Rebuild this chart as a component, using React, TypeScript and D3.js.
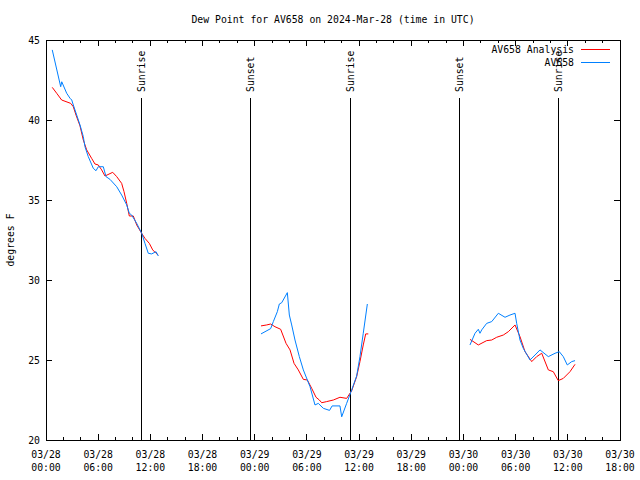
import React from "react";
import * as d3 from "d3";

const titleText = "Dew Point for AV658 on 2024-Mar-28 (time in UTC)";
const yLabel = "degrees F";
const seriesNames = ["AV658 Analysis", "AV658"];
const seriesColors = ["#ff0000", "#0080ff"];

const xTickHours = [0, 6, 12, 18, 24, 30, 36, 42, 48, 54, 60, 66];
const xTickDates = ["03/28", "03/28", "03/28", "03/28", "03/29", "03/29", "03/29", "03/29", "03/30", "03/30", "03/30", "03/30"];
const xTickTimes = ["00:00", "06:00", "12:00", "18:00", "00:00", "06:00", "12:00", "18:00", "00:00", "06:00", "12:00", "18:00"];
const yTicks = [20, 25, 30, 35, 40, 45];

const eventHours = [10.97, 23.5, 35.0, 47.53, 58.92];
const eventLabels = ["Sunrise", "Sunset", "Sunrise", "Sunset", "Sunrise"];

// AV658 Analysis (red); null marks a gap
const analysisHours = [
  0.72, 1.23, 1.8, 2.84, 3.14, 3.45, 3.91, 4.29, 4.68, 5.25, 5.63, 6.01, 6.4, 6.78, 7.67, 8.13, 8.7, 8.97, 9.28, 9.58, 10.04, 10.43, 11.0, 11.38, 11.88, 12.27, 12.65, 12.91,
  null,
  24.72, 25.37, 25.83, 26.33, 26.98, 27.6, 28.06, 28.52, 29.01, 29.59, 30.05, 30.55, 31.05, 31.43, 31.7, 32.27, 33.04, 33.8, 34.57, 35.15, 35.72, 36.1, 36.48, 36.76, 37.06,
  null,
  48.75, 49.33, 49.71, 50.67, 51.25, 51.82, 52.58, 53.16, 53.93, 54.5, 55.08, 55.85, 56.42, 57.0, 57.76, 58.33, 58.9, 59.48, 60.25, 60.83,
];
const analysisValues = [
  42.04, 41.67, 41.25, 41.04, 40.83, 40.31, 39.63, 38.75, 38.13, 37.6, 37.25, 37.19, 36.88, 36.5, 36.73, 36.46, 36.04, 35.52, 34.79, 34.0, 34.0, 33.44, 32.92, 32.6, 32.29, 31.88, 31.67, 31.56,
  null,
  27.13, 27.19, 27.25, 27.08, 26.92, 26.04, 25.63, 24.79, 24.38, 23.79, 23.75, 23.23, 22.67, 22.5, 22.33, 22.4, 22.5, 22.67, 22.6, 23.08, 23.96, 24.9, 25.94, 26.63, 26.63,
  null,
  26.29, 26.08, 25.94, 26.21, 26.25, 26.42, 26.56, 26.77, 27.19, 26.46, 25.52, 24.9, 25.21, 25.42, 24.38, 24.27, 23.71, 23.85, 24.27, 24.73,
];

// AV658 observations (blue)
const obsHours = [
  0.72, 1.69, 1.81, 2.38, 2.76, 2.96, 3.14, 3.53, 3.91, 4.29, 4.48, 4.86, 5.44, 5.75, 6.01, 6.59, 6.9, 7.36, 8.13, 8.7, 9.28, 9.58, 9.85, 10.43, 11.0, 11.38, 11.76, 12.15, 12.65, 12.91,
  null,
  24.72, 25.83, 26.14, 26.6, 26.83, 27.1, 27.75, 27.98, 28.25, 28.63, 29.13, 29.59, 30.05, 30.36, 30.93, 31.31, 31.89, 32.6, 32.9, 33.8, 34.0, 34.57, 35.15, 35.72, 36.1, 36.48, 36.95,
  null,
  48.75, 49.33, 49.71, 49.9, 50.1, 50.67, 51.25, 52.01, 52.78, 53.35, 53.93, 54.12, 54.5, 54.88, 55.65, 56.23, 56.8, 57.76, 58.53, 59.02, 59.48, 59.94, 60.45, 60.83,
];
const obsValues = [
  44.38, 42.08, 42.39, 41.67, 41.36, 41.25, 40.94, 40.31, 39.69, 38.96, 38.33, 37.71, 36.98, 36.83, 37.08, 37.08, 36.46, 36.29, 35.83, 35.31, 34.69, 34.17, 34.06, 33.54, 32.92, 32.29, 31.67, 31.63, 31.77, 31.5,
  null,
  26.63, 26.96, 27.4, 28.02, 28.5, 28.58, 29.21, 27.81, 27.19, 26.25, 25.21, 24.38, 23.75, 23.33, 22.19, 22.29, 21.98, 21.85, 22.13, 22.13, 21.45, 22.29, 23.13, 24.0, 25.21, 26.67, 28.5,
  null,
  25.94, 26.67, 26.92, 26.67, 26.88, 27.29, 27.4, 27.92, 27.67, 27.81, 27.92, 27.29, 26.25, 25.73, 25.0, 25.31, 25.63, 25.21, 25.42, 25.52, 25.21, 24.69, 24.9, 24.96,
];

const W = 640;
const H = 480;
const left = 46;
const right = 620;
const top = 40;
const bottom = 440;
const FONT = "'DejaVu Sans Mono', monospace";
const FS = 9.8;

export default function App() {
  const x = d3.scaleLinear().domain([0, 66]).range([left, right]);
  const y = d3.scaleLinear().domain([20, 45]).range([bottom, top]);

  type P = { h: number | null; v: number | null };
  const mk = (hs: (number | null)[], vs: (number | null)[]): P[] => hs.map((h, i) => ({ h, v: vs[i] }));
  const line = d3
    .line<P>()
    .defined((d) => d.h != null && d.v != null)
    .x((d) => x(d.h as number))
    .y((d) => y(d.v as number));

  const minorTicks = d3.range(0, 67, 2).filter((h) => h % 6 !== 0);
  const px = (v: number) => Math.round(v) + 0.5;

  return (
    <svg
      width={W}
      height={H}
      style={{ position: "absolute", left: 0, top: 0, background: "#fff" }}
      fontFamily={FONT}
      fontSize={FS}
    >
      <rect x={0} y={0} width={W} height={H} fill="#fff" />
      <text x={333} y={23} textAnchor="middle">{titleText}</text>

      {/* ticks */}
      <g stroke="#000" strokeWidth={1} shapeRendering="crispEdges">
        {xTickHours.map((h) => (
          <g key={"mx" + h}>
            <line x1={x(h)} x2={x(h)} y1={bottom} y2={bottom - 6} />
            <line x1={x(h)} x2={x(h)} y1={top} y2={top + 6} />
          </g>
        ))}
        {minorTicks.map((h) => (
          <g key={"nx" + h}>
            <line x1={x(h)} x2={x(h)} y1={bottom} y2={bottom - 3} />
            <line x1={x(h)} x2={x(h)} y1={top} y2={top + 3} />
          </g>
        ))}
        {yTicks.map((v) => (
          <g key={"y" + v}>
            <line x1={left} x2={left + 6} y1={y(v)} y2={y(v)} />
            <line x1={right} x2={right - 6} y1={y(v)} y2={y(v)} />
          </g>
        ))}
      </g>

      {yTicks.map((v) => (
        <text key={"yl" + v} x={40} y={y(v) + 4} textAnchor="end">{v}</text>
      ))}
      {xTickHours.map((h, i) => (
        <text key={"xl" + h} x={x(h)} textAnchor="middle">
          <tspan x={x(h)} y={458}>{xTickDates[i]}</tspan>
          <tspan x={x(h)} y={471}>{xTickTimes[i]}</tspan>
        </text>
      ))}
      <text transform={`translate(14,240) rotate(-90)`} textAnchor="middle">{yLabel}</text>

      {/* events */}
      {eventHours.map((h, i) => (
        <g key={"ev" + i}>
          <line x1={px(x(h))} x2={px(x(h))} y1={98} y2={bottom} stroke="#000" strokeWidth={1} />
          <text transform={`translate(${x(h) + 4},92) rotate(-90)`} textAnchor="start">{eventLabels[i]}</text>
        </g>
      ))}

      {/* series */}
      <path d={line(mk(analysisHours, analysisValues)) || ""} fill="none" stroke={seriesColors[0]} strokeWidth={1} />
      <path d={line(mk(obsHours, obsValues)) || ""} fill="none" stroke={seriesColors[1]} strokeWidth={1} />

      {/* legend */}
      {seriesNames.map((n, i) => (
        <g key={"lg" + i}>
          <text x={574} y={53 + i * 13} textAnchor="end">{n}</text>
          <line x1={581} x2={610} y1={49 + i * 13} y2={49 + i * 13} stroke={seriesColors[i]} strokeWidth={1} shapeRendering="crispEdges" />
        </g>
      ))}

      <rect x={left} y={top} width={right - left} height={bottom - top} fill="none" stroke="#000" strokeWidth={1} shapeRendering="crispEdges" />
    </svg>
  );
}
